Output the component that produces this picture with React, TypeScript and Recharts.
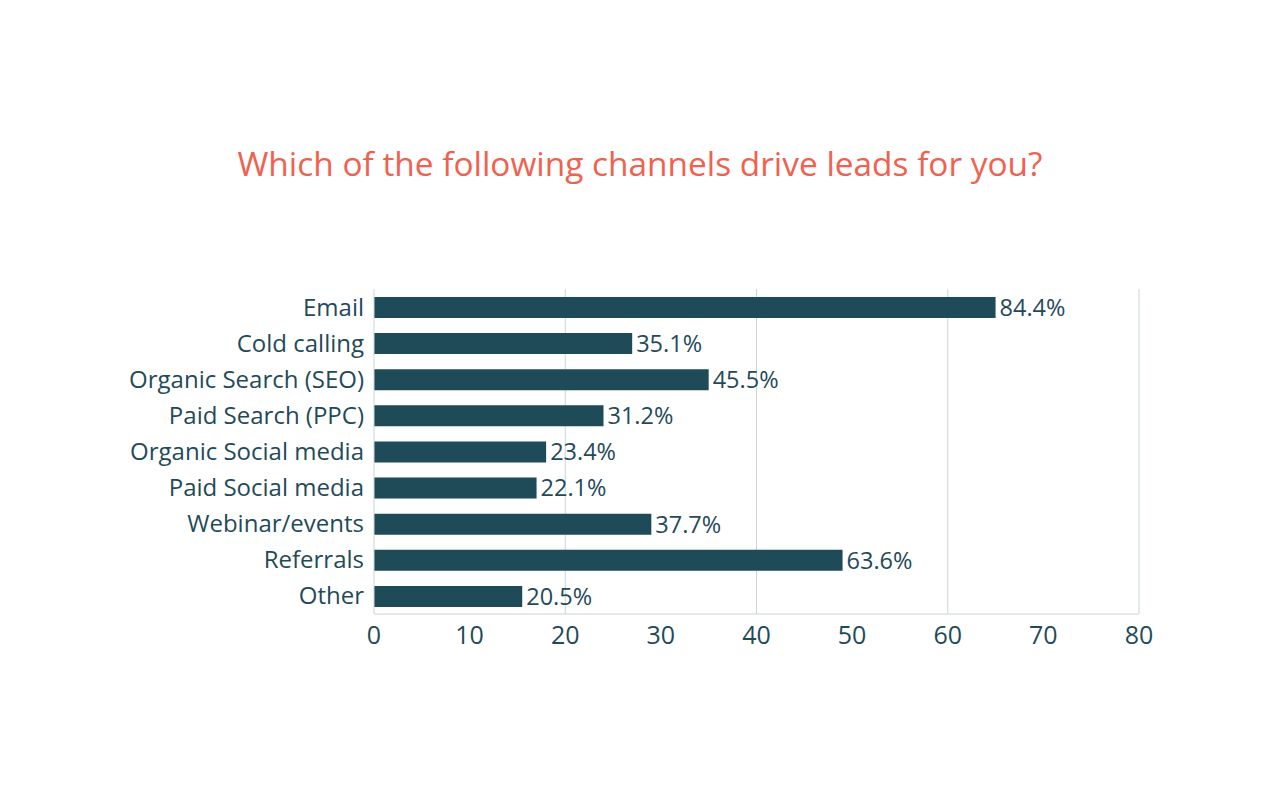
import { BarChart, Bar, XAxis, YAxis, CartesianGrid, LabelList } from 'recharts';

const channels = [
  'Email',
  'Cold calling',
  'Organic Search (SEO)',
  'Paid Search (PPC)',
  'Organic Social media',
  'Paid Social media',
  'Webinar/events',
  'Referrals',
  'Other',
];
const counts = [65, 27, 35, 24, 18, 17, 29, 49, 15.5];
const percents = [84.4, 35.1, 45.5, 31.2, 23.4, 22.1, 37.7, 63.6, 20.5];
const xTicks = [0, 10, 20, 30, 40, 50, 60, 70, 80];
const gridValues = [20, 40, 60, 80];

const data = channels.map((name, i) => ({ name, count: counts[i], pct: percents[i] }));

const font = '"Open Sans", Lato, sans-serif';
const ink = '#1f4b59';
const grid = '#c9d4d7';

const App = () => {
  return (
    <div style={{ position: 'absolute', left: 0, top: 0, width: 1280, height: 801, background: '#fff' }}>
      <div
        style={{
          position: 'absolute',
          top: 140,
          left: 0,
          width: 1280,
          textAlign: 'center',
          fontFamily: font,
          fontSize: 33.4,
          color: '#f0614f',
        }}
      >
        Which of the following channels drive leads for you?
      </div>
      <BarChart
        width={1280}
        height={801}
        data={data}
        layout="vertical"
        margin={{ top: 289, right: 141, left: 114, bottom: 147 }}
        barCategoryGap={15}
      >
        <CartesianGrid horizontal={false} verticalValues={gridValues} stroke={grid} />
        <XAxis
          type="number"
          domain={[0, 80]}
          ticks={xTicks}
          interval={0}
          stroke={grid}
          tickLine={false}
          tickSize={0}
          tickMargin={12}
          height={40}
          tick={{ fill: ink, fontSize: 25, fontFamily: font }}
        />
        <YAxis
          type="category"
          dataKey="name"
          width={260}
          stroke={grid}
          tickLine={false}
          tickSize={0}
          tickMargin={10}
          interval={0}
          tick={{ fill: ink, fontSize: 24, fontFamily: font }}
        />
        <Bar dataKey="count" fill={ink} barSize={21} isAnimationActive={false}>
          <LabelList
            dataKey="pct"
            position="right"
            offset={4}
            formatter={(v: number) => `${v.toFixed(1)}%`}
            style={{ fill: ink, fontSize: 23.5, fontFamily: font }}
          />
        </Bar>
      </BarChart>
    </div>
  );
};

export default App;
